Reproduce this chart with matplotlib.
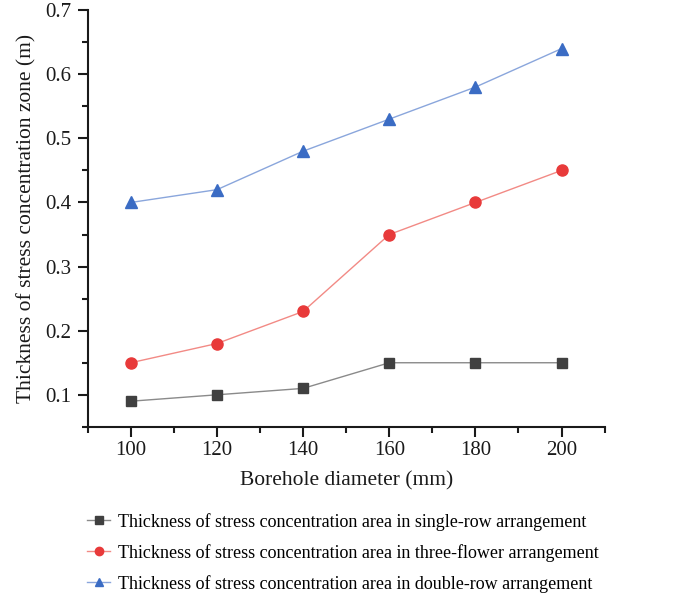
import matplotlib
matplotlib.use("Agg")
import matplotlib.pyplot as plt
from matplotlib.ticker import MultipleLocator, FuncFormatter

plt.rcParams['font.family'] = ['Liberation Serif', 'DejaVu Serif']

diameters = [100, 120, 140, 160, 180, 200]
single_row = [0.09, 0.10, 0.11, 0.15, 0.15, 0.15]
three_flower = [0.15, 0.18, 0.23, 0.35, 0.40, 0.45]
double_row = [0.40, 0.42, 0.48, 0.53, 0.58, 0.64]

labels = [
    "Thickness of stress concentration area in single-row arrangement",
    "Thickness of stress concentration area in three-flower arrangement",
    "Thickness of stress concentration area in double-row arrangement",
]

fig = plt.figure(figsize=(6.91, 5.97), dpi=100)
ax = fig.add_axes([0.127, 0.285, 0.748, 0.698])

h1, = ax.plot(diameters, single_row, color='#8a8a8a', lw=1.0,
              marker='s', ms=7, mfc='#404040', mec='#404040', label=labels[0])
h2, = ax.plot(diameters, three_flower, color='#f28a85', lw=1.0,
              marker='o', ms=8, mfc='#e83a3a', mec='#e83a3a', label=labels[1])
h3, = ax.plot(diameters, double_row, color='#8aa6dc', lw=1.0,
              marker='^', ms=8, mfc='#3b6cc4', mec='#3b6cc4', label=labels[2])

ax.set_xlim(90, 210)
ax.set_ylim(0.05, 0.7)
ax.xaxis.set_major_locator(MultipleLocator(20))
ax.xaxis.set_minor_locator(MultipleLocator(10))
ax.yaxis.set_major_locator(MultipleLocator(0.1))
ax.yaxis.set_minor_locator(MultipleLocator(0.05))
ax.set_xticks([100, 120, 140, 160, 180, 200])

for side in ('top', 'right'):
    ax.spines[side].set_visible(False)
for side in ('left', 'bottom'):
    ax.spines[side].set_linewidth(1.5)
    ax.spines[side].set_color('#1a1a1a')

ax.tick_params(which='major', direction='out', length=7, width=1.5,
               labelsize=15, colors='#1a1a1a', pad=5)
ax.tick_params(axis='x', which='major', pad=3)
ax.tick_params(which='minor', direction='out', length=4, width=1.5,
               colors='#1a1a1a')
ax.yaxis.set_major_formatter(FuncFormatter(lambda v, p: f"{v:.1f}"))

ax.set_xlabel("Borehole diameter (mm)", fontsize=15.5, color='#1a1a1a', labelpad=8)
ax.set_ylabel("Thickness of stress concentration zone (m)", fontsize=15.5,
              color='#1a1a1a', labelpad=6)

fig.legend(handles=[h1, h2, h3], loc='upper left', bbox_to_anchor=(0.108, 0.162),
           frameon=False, fontsize=13, handlelength=1.25, handletextpad=0.45,
           labelspacing=0.72, markerscale=0.75, borderpad=0.2)

fig.savefig("out.png", dpi=100)
